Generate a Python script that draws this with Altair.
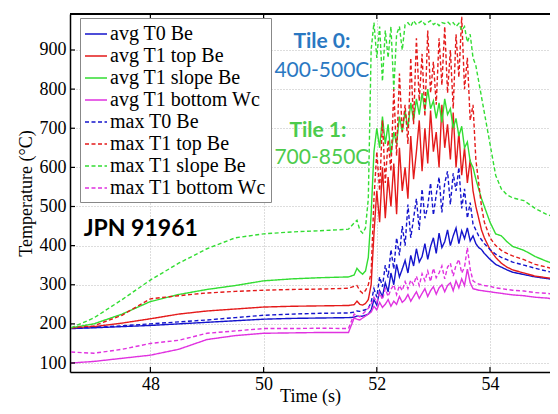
import altair as alt
import pandas as pd

time_s = [46.6, 47.0, 47.5, 48.0, 48.5, 49.0, 49.5, 50.0, 50.5, 51.0, 51.5, 51.6, 51.65, 51.7, 51.75, 51.8, 51.85,
          51.9, 51.95, 52.0, 52.05, 52.1, 52.15, 52.2, 52.25, 52.3, 52.35, 52.4, 52.45, 52.5, 52.55, 52.6, 52.65,
          52.7, 52.75, 52.8, 52.85, 52.9, 52.95, 53.0, 53.05, 53.1, 53.15, 53.2, 53.25, 53.3, 53.35, 53.4, 53.45,
          53.5, 53.55, 53.6, 53.65, 53.7,
          53.75, 53.8, 53.85, 53.9, 54.0, 54.1, 54.2, 54.3, 54.4, 54.6, 54.8, 55.0, 55.2]

avg_T0_Be = [188, 190, 193, 196, 200, 204, 208, 212, 214, 215, 216, 217, 220, 219, 220, 222, 225,
             235, 262, 248, 285, 270, 305, 282, 330, 300, 352, 320, 340, 362, 330, 375, 348,
             392, 358, 372, 405, 365, 398, 420, 380, 432, 395, 410, 440, 400, 425, 445, 405,
             438, 418, 445, 412, 425,
             405, 395, 390, 380, 365, 352, 345, 338, 332, 326, 320, 316, 312]

avg_T1_top_Be = [190, 193, 202, 213, 225, 233, 238, 243, 245, 246, 247, 249, 258, 250, 248, 252, 262,
                 300, 430, 540, 460, 600, 470, 575, 500, 610, 480, 650, 540, 600, 520, 680, 570,
                 640, 720, 590, 700, 610, 745, 640, 690, 600, 760, 650, 710, 620, 740, 600, 690,
                 580, 650, 560, 620, 540,
                 500, 470, 440, 420, 390, 370, 355, 345, 338, 330, 322, 318, 314]

avg_T1_slope_Be = [190, 200, 225, 257, 275, 288, 298, 310, 315, 318, 320, 325, 342, 333, 327, 335, 370,
                   480, 640, 700, 650, 730, 660, 710, 630, 690, 660, 730, 690, 745, 700, 765, 720,
                   775, 735, 790, 745, 800, 750, 770, 725, 765, 715, 775, 735, 750, 700, 725, 680,
                   705, 650, 665, 615, 600,
                   570, 545, 520, 500, 460, 430, 425, 410, 398, 388, 372, 360, 350]

avg_T1_bottom_Wc = [100, 104, 112, 120, 135, 160, 170, 176, 177, 178, 178, 215, 212, 210, 215, 220, 225,
                    230, 245, 236, 255, 242, 250, 262, 245, 258, 250, 270, 255, 262, 275, 258, 270,
                    282, 265, 278, 290, 270, 285, 295, 276, 292, 300, 282, 298, 305, 285, 310, 292,
                    315, 298, 340, 305, 290,
                    288, 286, 285, 284, 282, 280, 278, 276, 274, 272, 268, 266, 262]

max_T0_Be = [190, 191, 195, 200, 205, 210, 216, 222, 225, 227, 228, 230, 233, 232, 234, 236, 240,
             255, 290, 268, 320, 295, 350, 318, 390, 340, 420, 375, 450, 400, 505, 420, 470,
             520, 440, 545, 470, 500, 560, 478, 530, 575, 485, 560, 590, 505, 585, 540, 600,
             495, 545, 470, 510, 455,
             440, 425, 415, 405, 390, 378, 370, 364, 358, 350, 342, 335, 328]

max_T1_top_Be = [190, 195, 222, 264, 272, 279, 283, 286, 288, 289, 291, 296, 298, 285, 278, 285, 300,
                 330, 520, 640, 540, 720, 560, 670, 590, 800, 630, 840, 690, 760, 660, 880, 710,
                 930, 770, 890, 730, 950, 790, 870, 760, 930, 810, 960, 790, 900, 750, 940, 830,
                 985, 800, 880, 720, 760,
                 620, 560, 500, 460, 420, 400, 388, 380, 374, 364, 352, 345, 338]

max_T1_slope_Be = [190, 215, 262, 312, 355, 392, 420, 430, 435, 438, 442, 458, 465, 440, 432, 445, 520,
                   900, 970, 880, 960, 820, 950, 880, 960, 800, 940, 960, 900, 965, 970, 960, 975,
                   965, 970, 975, 965, 970, 975, 965, 970, 962, 970, 968, 972, 965, 970, 960, 968,
                   950, 960, 920, 940, 880,
                   860, 820, 780, 740, 660, 580, 545, 530, 522, 515, 495, 480, 470]

max_T1_bottom_Wc = [128, 125, 135, 150, 158, 176, 182, 188, 188, 189, 188, 225, 220, 218, 225, 232, 240,
                    250, 268, 255, 280, 262, 290, 270, 288, 300, 275, 298, 285, 308, 290, 312, 300,
                    322, 298, 328, 310, 335, 308, 342, 318, 330, 348, 315, 345, 355, 322, 350, 365,
                    330, 345, 395, 340, 310,
                    305, 302, 300, 298, 296, 292, 290, 288, 286, 284, 280, 278, 275]

series_names = ["avg T0 Be", "avg T1 top Be", "avg T1 slope Be", "avg T1 bottom Wc",
                "max T0 Be", "max T1 top Be", "max T1 slope Be", "max T1 bottom Wc"]
series_values = [avg_T0_Be, avg_T1_top_Be, avg_T1_slope_Be, avg_T1_bottom_Wc,
                 max_T0_Be, max_T1_top_Be, max_T1_slope_Be, max_T1_bottom_Wc]
series_colors = ["#1414cc", "#e41a1a", "#33dd33", "#e032e0",
                 "#1414cc", "#e41a1a", "#33dd33", "#e032e0"]
series_dashes = [[1, 0], [1, 0], [1, 0], [1, 0], [4, 2.5], [4, 2.5], [4, 2.5], [4, 2.5]]

x_ticks = [48, 50, 52, 54]
y_ticks = [100, 200, 300, 400, 500, 600, 700, 800, 900]

ann_text = ["Tile 0:", "400-500C", "Tile 1:", "700-850C", "JPN 91961"]
ann_t = [51.03, 51.03, 50.96, 51.03, 47.83]
ann_v = [921, 846, 694, 624, 442]
ann_color = ["#2a78c2", "#2a78c2", "#4ccb4c", "#4ccb4c", "#000000"]
ann_weight = ["bold", "normal", "bold", "normal", "bold"]
ann_size = [21, 21, 21, 21, 23]

rows = []
for name, vals in zip(series_names, series_values):
    for t, v in zip(time_s, vals):
        rows.append({"series": name, "t": t, "v": v})
df = pd.DataFrame(rows)

ann_df = pd.DataFrame({"text": ann_text, "t": ann_t, "v": ann_v, "color": ann_color,
                       "weight": ann_weight, "size": ann_size})

W, H = 480, 358
serif = "Liberation Serif"

x_scale = alt.Scale(domain=[46.58, 55.06], nice=False, zero=False)
y_scale = alt.Scale(domain=[77, 992], nice=False, zero=False)

legend_kw = dict(orient="none", legendX=10, legendY=4, fillColor="white", strokeColor="#888888",
                 padding=4, labelFont=serif, labelFontSize=20, labelColor="black",
                 symbolType="stroke", symbolSize=484, symbolStrokeWidth=1.5, rowPadding=0,
                 labelOffset=2, title=None, labelLimit=400)

lines = alt.Chart(df).mark_line(strokeWidth=1.4, clip=True).encode(
    x=alt.X("t:Q", scale=x_scale,
            axis=alt.Axis(values=x_ticks, format="d", title="Time (s)", grid=True, ticks=False,
                          labelFont=serif, labelFontSize=18, labelColor="black", labelPadding=3,
                          titleFont=serif, titleFontSize=18, titleFontWeight="normal", titleColor="black",
                          titleY=29, titleBaseline="alphabetic", domainColor="black", domainWidth=1.5,
                          gridColor="#bbbbbb", gridDash=[1, 2], gridWidth=1)),
    y=alt.Y("v:Q", scale=y_scale,
            axis=alt.Axis(values=y_ticks, format="d", title="Temperature (°C)", grid=True, ticks=False,
                          labelFont=serif, labelFontSize=18, labelColor="black", labelPadding=4,
                          titleFont=serif, titleFontSize=18, titleFontWeight="normal", titleColor="black",
                          titlePadding=4, domainColor="black", domainWidth=1.5,
                          gridColor="#bbbbbb", gridDash=[1, 2], gridWidth=1)),
    color=alt.Color("series:N", scale=alt.Scale(domain=series_names, range=series_colors),
                    sort=series_names, legend=alt.Legend(**legend_kw)),
    strokeDash=alt.StrokeDash("series:N", scale=alt.Scale(domain=series_names, range=series_dashes),
                              sort=series_names, legend=alt.Legend(**legend_kw)),
)

tick_df = pd.DataFrame({"t": x_ticks})
ytick_df = pd.DataFrame({"v": y_ticks})

xticks_bottom = alt.Chart(tick_df).mark_rule(color="black", strokeWidth=1.2).encode(
    x=alt.X("t:Q", scale=x_scale), y=alt.value(H), y2=alt.value(H - 5))
xticks_top = alt.Chart(tick_df).mark_rule(color="black", strokeWidth=1.2).encode(
    x=alt.X("t:Q", scale=x_scale), y=alt.value(0), y2=alt.value(5))
yticks_left = alt.Chart(ytick_df).mark_rule(color="black", strokeWidth=1.2).encode(
    y=alt.Y("v:Q", scale=y_scale), x=alt.value(0), x2=alt.value(5))
top_border = alt.Chart(tick_df).mark_rule(color="black", strokeWidth=1.5).encode(
    y=alt.value(0), x=alt.value(0), x2=alt.value(W))


def ann_layer(weight):
    return alt.Chart(ann_df).transform_filter(alt.datum.weight == weight).mark_text(
        font="Lato", align="center", baseline="middle", fontWeight=weight).encode(
        x=alt.X("t:Q", scale=x_scale),
        y=alt.Y("v:Q", scale=y_scale),
        text="text:N",
        color=alt.Color("color:N", scale=None),
        size=alt.Size("size:Q", scale=None),
    )


chart = alt.layer(lines, xticks_bottom, xticks_top, yticks_left, top_border,
                  ann_layer("bold"), ann_layer("normal")).properties(
    width=W, height=H,
    padding={"left": 62, "top": 6, "right": 0, "bottom": 34},
    autosize=alt.AutoSizeParams(type="none"),
    background="white",
).configure_view(stroke=None)

chart.save("out.html", embed_options={"renderer": "svg", "actions": False})
